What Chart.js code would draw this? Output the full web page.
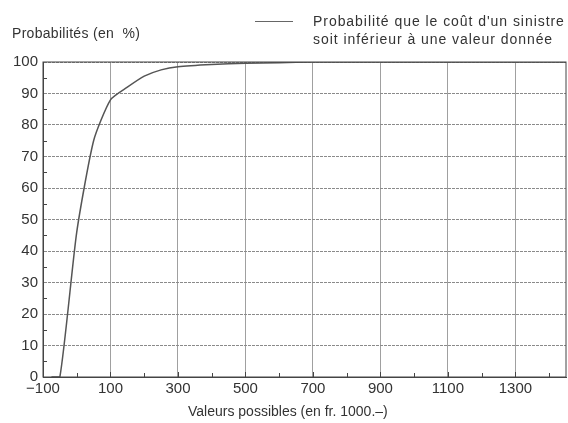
<!DOCTYPE html>
<html>
<head>
<meta charset="utf-8">
<script src="https://cdn.jsdelivr.net/npm/chart.js@4.4.1/dist/chart.umd.min.js"></script>
<style>
  body { margin: 0; background: #fff; }
  #wrap { position: relative; width: 568px; height: 423px; font-family: "Liberation Sans", Arial, sans-serif; color: #333; }
  #titreY { position: absolute; left: 12px; top: 25px; font-size: 14px; letter-spacing: 0.3px; }
  #titreX { position: absolute; left: 188px; top: 403px; font-size: 14px; }
  #legende { position: absolute; left: 255px; top: 12px; font-size: 14px; line-height: 18px; letter-spacing: 0.95px; }
  #legende .trait { position: absolute; left: 0; top: 9px; width: 38px; border-top: 1px solid #666; }
  #legende .texte { margin-left: 58px; white-space: nowrap; }
</style>
</head>
<body>
<div id="wrap">
  <canvas id="grafico" width="568" height="423"></canvas>
  <div id="titreY">Probabilités (en&nbsp; %)</div>
  <div id="titreX">Valeurs possibles (en fr. 1000.–)</div>
  <div id="legende"><div class="trait"></div><div class="texte">Probabilité que le coût d'un sinistre<br>soit inférieur à une valeur donnée</div></div>
</div>
<script>
// valeurs (en fr. 1000.-)
const valeurs = [-75, -50, 0, 50, 100, 150, 200, 250, 300, 400, 500, 600, 700, 1000, 1450];
const probabilites = [0, 0, 46, 75, 88, 92, 95.5, 97.5, 98.5, 99.2, 99.6, 99.8, 100, 100, 100];
const ticksX = [-100, 100, 300, 500, 700, 900, 1100, 1300];
const ticksY = [0, 10, 20, 30, 40, 50, 60, 70, 80, 90, 100];

const corTexto = '#333';

// cadre + petites graduations
const cadrePlugin = {
	id: 'cadre',
	afterDraw(chart) {
		const ctx = chart.ctx;
		const a = chart.chartArea;
		const x = chart.scales.x;
		const y = chart.scales.y;
		ctx.save();
		ctx.setLineDash([]);
		ctx.strokeStyle = '#444';
		ctx.lineWidth = 1;
		ctx.strokeRect(a.left, a.top, a.right - a.left, a.bottom - a.top);
		ctx.beginPath();
		for (let v = 0; v <= 1400; v += 100) {
			const px = Math.round(x.getPixelForValue(v)) + 0.5;
			const h = ticksX.includes(v) ? 5 : 4;
			ctx.moveTo(px, a.bottom);
			ctx.lineTo(px, a.bottom - h);
		}
		for (let v = 5; v < 100; v += 10) {
			const py = Math.round(y.getPixelForValue(v)) + 0.5;
			ctx.moveTo(a.left, py);
			ctx.lineTo(a.left + 4, py);
		}
		ctx.stroke();
		ctx.restore();
	}
};

function criarGrafico() {
	const ctx = document.getElementById('grafico').getContext('2d');
	new Chart(ctx, {
		type: 'line',
		data: {
			datasets: [{
				data: valeurs.map((v, i) => ({ x: v, y: probabilites[i] })),
				borderColor: '#555',
				borderWidth: 1.5,
				pointRadius: 0,
				fill: false,
				tension: 0.2
			}]
		},
		options: {
			responsive: false,
			animation: false,
			layout: { padding: { top: 62, right: 2, left: 0, bottom: 0 } },
			scales: {
				x: {
					type: 'linear',
					min: -100,
					max: 1450,
					afterFit: (s) => { s.height = 46; },
					afterBuildTicks: (s) => {
						const t = [];
						for (let v = -100; v <= 1400; v += 100) t.push({ value: v });
						s.ticks = t;
					},
					ticks: {
						autoSkip: false,
						maxRotation: 0,
						padding: 3,
						color: corTexto,
						font: { family: 'Liberation Sans', size: 15 },
						callback: (v) => ticksX.includes(v) ? (v < 0 ? '\u2212' + Math.abs(v) : String(v)) : ''
					},
					grid: {
						drawTicks: false,
						color: (c) => (c.tick && ticksX.includes(c.tick.value) && c.tick.value > -100) ? '#a0a0a0' : 'transparent',
						lineWidth: 1
					},
					border: { color: '#444', width: 1 }
				},
				y: {
					min: 0,
					max: 100,
					afterFit: (s) => { s.width = 43; },
					afterBuildTicks: (s) => { s.ticks = ticksY.map(v => ({ value: v })); },
					ticks: {
						padding: 5,
						color: corTexto,
						font: { family: 'Liberation Sans', size: 15 }
					},
					grid: {
						drawTicks: false,
						color: '#8a8a8a',
						lineWidth: 1
					},
					border: { color: '#444', width: 1, dash: [3, 1] }
				}
			},
			plugins: {
				legend: { display: false },
				tooltip: { enabled: false }
			}
		},
		plugins: [cadrePlugin]
	});
}

criarGrafico();
</script>
</body>
</html>
